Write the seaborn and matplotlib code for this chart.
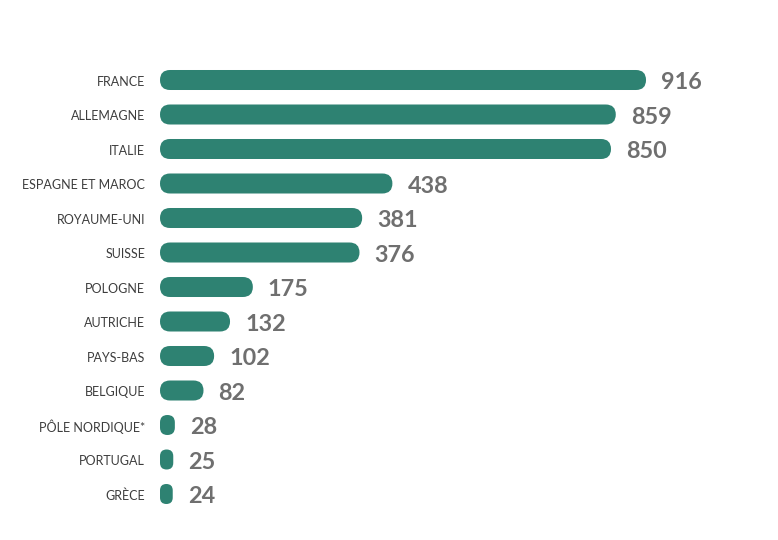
import matplotlib
matplotlib.use("Agg")
import matplotlib.pyplot as plt
import seaborn as sns
import pandas as pd
from matplotlib.patches import FancyBboxPatch
from matplotlib.transforms import IdentityTransform

countries = ["FRANCE", "ALLEMAGNE", "ITALIE", "ESPAGNE ET MAROC", "ROYAUME-UNI",
             "SUISSE", "POLOGNE", "AUTRICHE", "PAYS-BAS", "BELGIQUE",
             "PÔLE NORDIQUE*", "PORTUGAL", "GRÈCE"]
values = [916, 859, 850, 438, 381, 376, 175, 132, 102, 82, 28, 25, 24]

df = pd.DataFrame({"pays": countries, "valeur": values})

sns.set_theme(style="white")
plt.rcParams['font.family'] = ['Lato', 'DejaVu Sans']

W, H, DPI = 778, 540, 100
fig = plt.figure(figsize=(W / DPI, H / DPI), dpi=DPI)
fig.patch.set_facecolor("white")

bar_color = "#2e8272"
sx = 0.5306  # px per unit
xmax = 1000
x0_px = 160
top_px = 80 - 17.25
bot_px = 494 + 17.25
ax = fig.add_axes([x0_px / W, (H - bot_px) / H, xmax * sx / W, (bot_px - top_px) / H])

sns.barplot(data=df, x="valeur", y="pays", orient="h", color=bar_color,
            width=0.58, ax=ax, saturation=1)
ax.set_xlim(0, xmax)
ax.set_ylim(len(countries) - 0.5, -0.5)
ax.set_xlabel("")
ax.set_ylabel("")
ax.set_xticks([])
ax.set_yticks([])
for s in ax.spines.values():
    s.set_visible(False)

# replace rectangles with rounded pills (display coordinates)
patches = list(ax.patches)
for p in patches:
    x, y, w, h = p.get_x(), p.get_y(), p.get_width(), p.get_height()
    (dx0, dy0) = ax.transData.transform((x, y + h))
    (dx1, dy1) = ax.transData.transform((x + w, y))
    pw, ph = dx1 - dx0, dy1 - dy0
    r = min(ph / 2, pw / 2)
    fb = FancyBboxPatch((dx0, dy0), pw, ph,
                        boxstyle=f"round,pad=0,rounding_size={r}",
                        transform=IdentityTransform(), facecolor=bar_color,
                        edgecolor="none", clip_on=False)
    p.remove()
    fig.add_artist(fb)

for i, (c, v) in enumerate(zip(countries, values)):
    ax.text(-15 / sx, i + 0.05, c, ha="right", va="center", fontsize=9,
            color="#3d3d3d")
    ax.text(v + 15 / sx, i + 0.08, str(v), ha="left", va="center", fontsize=16.8,
            fontweight="bold", color="#6f6f6f")

fig.savefig("out.png", dpi=DPI, facecolor="white")
